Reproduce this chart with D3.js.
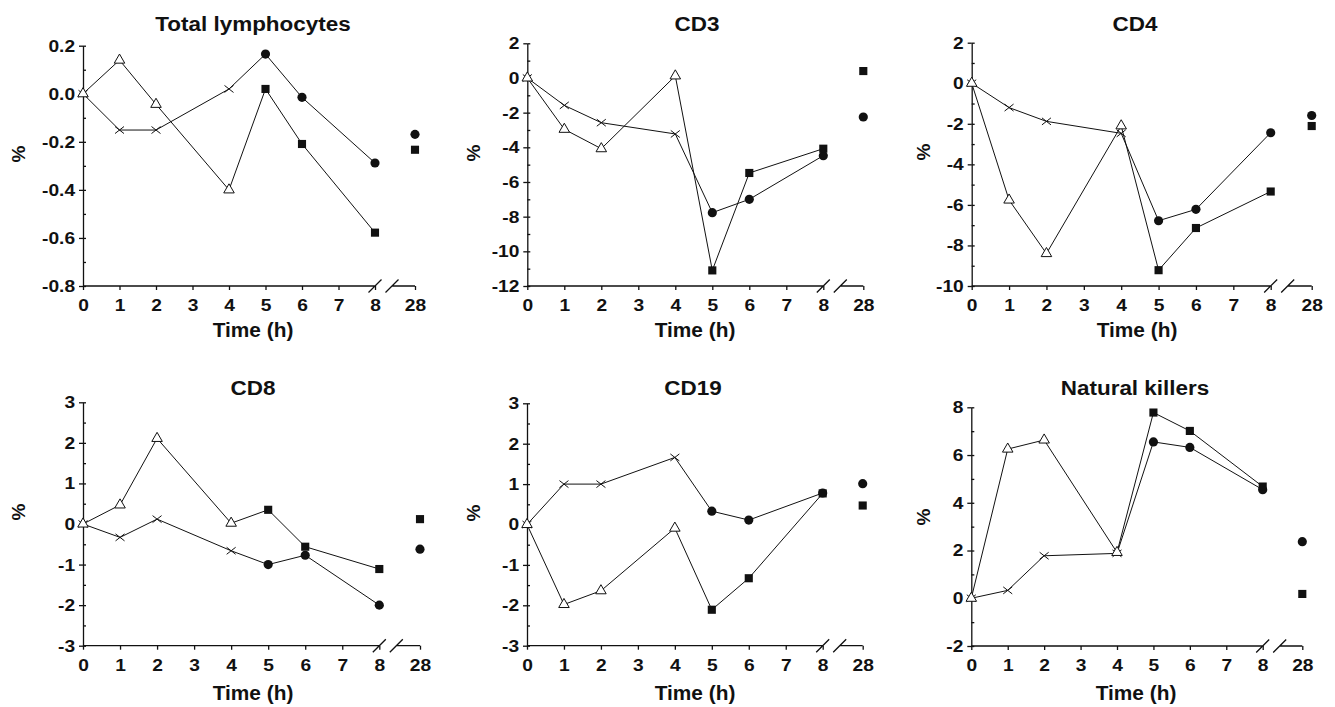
<!DOCTYPE html>
<html lang="en">
<head>
    <meta charset="UTF-8">
    <script src="https://d3js.org/d3.v7.min.js"></script>
    <style>
        body { margin: 0; background: #ffffff; }
        text { font-family: "Liberation Sans", Arial, sans-serif; font-weight: bold; fill: #111; }
        .series { fill: none; stroke: #111; stroke-width: 1px; }
        .axis path, .axis line { stroke: #111; stroke-width: 1.3px; }
    </style>
</head>
<body>
<script>
    const width = 1335;
    const height = 707;

    // data
    const titles = ["Total lymphocytes", "CD3", "CD4", "CD8", "CD19", "Natural killers"];
    const earlyTimes = [0, 1, 2, 4];
    const lateTimes = [5, 6, 8, 28];
    const xTickValues = [0, 1, 2, 3, 4, 5, 6, 7, 8, 28];

    // open triangles (0-4 h) and filled squares (5-28 h): one group
    const triangleVals = [
        [0, 0.14, -0.044, -0.40],
        [0, -2.96, -4.08, 0.12],
        [0, -5.76, -8.40, -2.10],
        [0, 0.47, 2.11, 0.02],
        [0, -1.98, -1.64, -0.09],
        [0, 6.25, 6.63, 1.92]
    ];
    const squareVals = [
        [0.02, -0.209, -0.578, -0.233],
        [-11.1, -5.48, -4.08, 0.40],
        [-9.22, -7.14, -5.34, -2.11],
        [0.35, -0.56, -1.11, 0.12],
        [-2.11, -1.33, 0.77, 0.47],
        [7.78, 7.01, 4.68, 0.18]
    ];
    // crosses (0-4 h) and filled circles (5-28 h): other group
    const crossVals = [
        [0, -0.151, -0.151, 0.02],
        [0, -1.58, -2.58, -3.23],
        [0, -1.20, -1.88, -2.47],
        [0, -0.33, 0.12, -0.66],
        [0, 1.00, 1.00, 1.66],
        [0, 0.33, 1.78, 1.88]
    ];
    const circleVals = [
        [0.165, -0.015, -0.288, -0.169],
        [-7.77, -7.00, -4.48, -2.25],
        [-6.78, -6.22, -2.44, -1.59],
        [-1.00, -0.77, -2.00, -0.62],
        [0.33, 0.11, 0.78, 1.01],
        [6.55, 6.32, 4.55, 2.37]
    ];
    const yDomains = [[-0.8, 0.2], [-12, 2], [-10, 2], [-3, 3], [-3, 3], [-2, 8]];
    const yMajorSteps = [0.2, 2, 2, 1, 1, 2];
    const yDecimals = [1, 0, 0, 0, 0, 0];

    // panel placement (axis pixel positions)
    const layout = [
        {x0: 83, x8: 375, x28: 415, top: 45.7, bottom: 286, labelX: 18, labelY: 154, titleX: 253, titleY: 23, timeX: 253, timeY: 330},
        {x0: 527.3, x8: 823.3, x28: 863.3, top: 43.3, bottom: 286, labelX: 473, labelY: 153, titleX: 697, titleY: 23, timeX: 695, timeY: 330},
        {x0: 971.7, x8: 1270.7, x28: 1311.7, top: 42.7, bottom: 286, labelX: 923, labelY: 152, titleX: 1135, titleY: 23, timeX: 1137, timeY: 330},
        {x0: 83, x8: 379.3, x28: 420, top: 402.3, bottom: 645.7, labelX: 18, labelY: 512, titleX: 253, titleY: 387, timeX: 253, timeY: 693},
        {x0: 527, x8: 822.7, x28: 862.7, top: 403.3, bottom: 645.7, labelX: 473, labelY: 513, titleX: 693, titleY: 387, timeX: 695, timeY: 693},
        {x0: 971.3, x8: 1262.7, x28: 1302.3, top: 407.3, bottom: 646, labelX: 923, labelY: 517, titleX: 1135, titleY: 387, timeX: 1136, timeY: 693}
    ];

    const svg = d3.select('body').append('svg')
        .attr('width', width)
        .attr('height', height);

    const range = (lo, hi, step) => d3.range(0, Math.round((hi - lo) / step) + 1).map(i => +(lo + i * step).toFixed(4));

    titles.forEach((title, i) => {
        const L = layout[i];
        const g = svg.append('g');

        const x = d3.scaleLinear().domain([0, 8, 28]).range([L.x0, L.x8, L.x28]);
        const y = d3.scaleLinear().domain(yDomains[i]).range([L.bottom, L.top]);

        const [lo, hi] = yDomains[i];
        const step = yMajorSteps[i];
        const fmt = d3.format('.' + yDecimals[i] + 'f');

        // minor y ticks (inside)
        g.append('g')
            .attr('class', 'axis')
            .attr('transform', `translate(${L.x0},0)`)
            .call(d3.axisRight(y).tickValues(range(lo, hi, step / 2)).tickSize(3).tickSizeOuter(0).tickFormat(''))
            .call(a => a.select('.domain').remove());

        // major y axis
        g.append('g')
            .attr('class', 'axis')
            .attr('transform', `translate(${L.x0},0)`)
            .call(d3.axisLeft(y).tickValues(range(lo, hi, step)).tickSize(4).tickSizeOuter(0).tickPadding(3)
                .tickFormat(d => fmt(d).replace('\u2212', '-')))
            .call(a => a.selectAll('text').attr('font-size', 17).attr('font-family', null)
                .attr('transform', 'scale(1.13,1)'));

        // x axis with break between 8 and 28
        const xAxis = g.append('g')
            .attr('class', 'axis')
            .attr('transform', `translate(0,${L.bottom})`)
            .call(d3.axisBottom(x).tickValues(xTickValues).tickSize(4).tickSizeOuter(0).tickPadding(9).tickFormat(d3.format('d')))
            .call(a => a.select('.domain').remove())
            .call(a => a.selectAll('text').attr('font-size', 17).attr('font-family', null)
                .attr('transform', 'scale(1.13,1)'));

        const b1 = x(8), b2 = x(8) + 17, s = 6.5;
        xAxis.append('path')
            .attr('fill', 'none')
            .attr('d', `M${L.x0},0H${b1}M${b2},0H${x(28)}` +
                `M${b1 - s},${s}L${b1 + s},${-s}M${b2 - s},${s}L${b2 + s},${-s}`);

        // titles and axis labels
        g.append('text')
            .attr('transform', `translate(${L.titleX},${L.titleY}) scale(1.07,1)`)
            .attr('text-anchor', 'middle')
            .attr('dy', '0.36em')
            .attr('font-size', 21)
            .text(title);

        g.append('text')
            .attr('transform', `translate(${L.timeX},${L.timeY}) scale(1.07,1)`)
            .attr('text-anchor', 'middle')
            .attr('dy', '0.36em')
            .attr('font-size', 19.5)
            .text('Time (h)');

        g.append('text')
            .attr('transform', `translate(${L.labelX},${L.labelY}) rotate(-90)`)
            .attr('text-anchor', 'middle')
            .attr('dy', '0.35em')
            .attr('font-size', 19)
            .text('%');

        // series
        const groupA = earlyTimes.map((t, k) => [t, triangleVals[i][k]])
            .concat(lateTimes.slice(0, 3).map((t, k) => [t, squareVals[i][k]]));
        const groupB = earlyTimes.map((t, k) => [t, crossVals[i][k]])
            .concat(lateTimes.slice(0, 3).map((t, k) => [t, circleVals[i][k]]));

        const line = d3.line().x(d => x(d[0])).y(d => y(d[1]));
        g.append('path').attr('class', 'series').datum(groupA).attr('d', line);
        g.append('path').attr('class', 'series').datum(groupB).attr('d', line);

        // crosses
        g.selectAll('.cross')
            .data(earlyTimes.map((t, k) => [t, crossVals[i][k]]))
            .enter().append('path')
            .attr('class', 'cross')
            .attr('transform', d => `translate(${x(d[0])},${y(d[1])})`)
            .attr('d', 'M-4.5,-3.5L4.5,3.5M-4.5,3.5L4.5,-3.5')
            .attr('stroke', '#111')
            .attr('stroke-width', 1)
            .attr('fill', 'none');

        // circles
        g.selectAll('.dot')
            .data(lateTimes.map((t, k) => [t, circleVals[i][k]]))
            .enter().append('path')
            .attr('class', 'dot')
            .attr('transform', d => `translate(${x(d[0])},${y(d[1])})`)
            .attr('d', d3.symbol(d3.symbolCircle, 66))
            .attr('fill', '#111');

        // squares
        g.selectAll('.square')
            .data(lateTimes.map((t, k) => [t, squareVals[i][k]]))
            .enter().append('path')
            .attr('class', 'square')
            .attr('transform', d => `translate(${x(d[0])},${y(d[1])})`)
            .attr('d', d3.symbol(d3.symbolSquare, 66))
            .attr('fill', '#111');

        // open triangles
        g.selectAll('.tri')
            .data(earlyTimes.map((t, k) => [t, triangleVals[i][k]]))
            .enter().append('path')
            .attr('class', 'tri')
            .attr('transform', d => `translate(${x(d[0])},${y(d[1])})`)
            .attr('d', d3.symbol(d3.symbolTriangle, 48))
            .attr('fill', '#fff')
            .attr('stroke', '#111')
            .attr('stroke-width', 1);
    });
</script>
</body>
</html>
